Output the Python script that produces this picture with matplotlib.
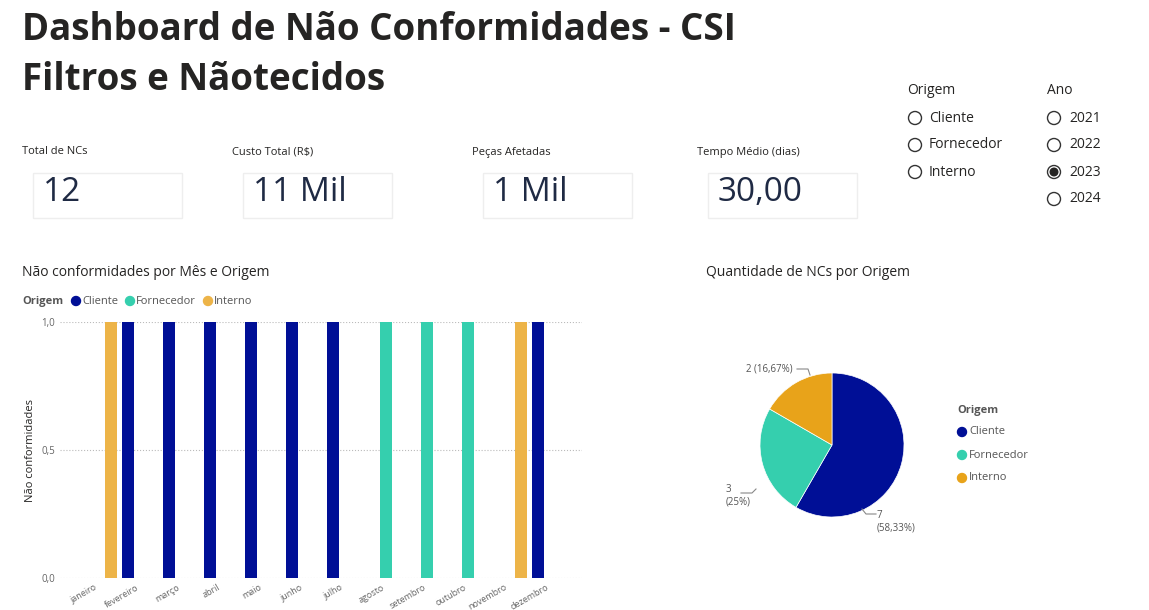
import numpy as np
import matplotlib.pyplot as plt
from matplotlib.patches import Rectangle, Ellipse

plt.rcParams['font.family'] = ['Open Sans', 'DejaVu Sans']

meses = ["janeiro", "fevereiro", "março", "abril", "maio", "junho", "julho",
         "agosto", "setembro", "outubro", "novembro", "dezembro"]
cliente = [0, 1, 1, 1, 1, 1, 1, 0, 0, 0, 0, 1]
fornecedor = [0, 0, 0, 0, 0, 0, 0, 1, 1, 1, 0, 0]
interno = [1, 0, 0, 0, 0, 0, 0, 0, 0, 0, 1, 0]
origens = ["Cliente", "Fornecedor", "Interno"]
pie_vals = [7, 3, 2]
pie_labels = ["7\n(58,33%)", "3\n(25%)", "2 (16,67%)"]
kpi_titles = ["Total de NCs", "Custo Total (R$)", "Peças Afetadas", "Tempo Médio (dias)"]
kpi_values = ["12", "11 Mil", "1 Mil", "30,00"]
anos = ["2021", "2022", "2023", "2024"]
ano_sel = "2023"

C_CLI = "#000F96"
C_FOR = "#35CFAE"
C_INT_BAR = "#EDB448"
C_INT_PIE = "#E8A31A"

W, H = 1149, 610
fig = plt.figure(figsize=(W / 100, H / 100), dpi=100)
fig.patch.set_facecolor("white")


def px(x, y):
    return x / W, 1 - y / H


def dot(x, y, r, **kw):
    fig.patches.append(Ellipse(px(x, y), 2 * r / W, 2 * r / H, transform=fig.transFigure, **kw))


# title
fig.text(*px(22, 30), "Dashboard de Não Conformidades - CSI", fontsize=26.5, fontweight="bold",
         color="#252423", va="center")
fig.text(*px(22, 80), "Filtros e Nãotecidos", fontsize=26.5, fontweight="bold",
         color="#252423", va="center")

# KPI cards
kx = [22, 232, 472, 697]
for x, t, v in zip(kx, kpi_titles, kpi_values):
    fig.text(*px(x, 152), t, fontsize=8, color="#252423", va="center")
    fig.patches.append(Rectangle(px(x + 11, 218), 149 / W, 45 / H, transform=fig.transFigure,
                                 fill=False, edgecolor="#EEEEEE", lw=1))
    fig.text(*px(x + 21, 192), v, fontsize=24, color="#1F2A44", va="center")

# slicers
fig.text(*px(907, 91), "Origem", fontsize=10, color="#252423", va="center")
for i, o in enumerate(origens):
    y = 118 + 27 * i
    dot(915, y, 6.5, fill=False, edgecolor="#333333", lw=1)
    fig.text(*px(929, y), o, fontsize=10, color="#252423", va="center")
fig.text(*px(1047, 91), "Ano", fontsize=10, color="#252423", va="center")
for i, a in enumerate(anos):
    y = 118 + 27 * i
    dot(1054, y, 6.5, fill=False, edgecolor="#333333", lw=1)
    if a == ano_sel:
        dot(1054, y, 3.8, color="#252423")
    fig.text(*px(1069, y), a, fontsize=10, color="#252423", va="center")

# bar chart
fig.text(*px(22, 273), "Não conformidades por Mês e Origem", fontsize=10, color="#252423", va="center")
fig.text(*px(22, 301), "Origem", fontsize=8, fontweight="bold", color="#555555", va="center")
lx = 76
for o, c in zip(origens, [C_CLI, C_FOR, C_INT_BAR]):
    dot(lx, 301, 4.5, color=c)
    fig.text(*px(lx + 6, 301), o, fontsize=8, color="#555555", va="center")
    lx += {"Cliente": 54, "Fornecedor": 78}.get(o, 0)

ax = fig.add_axes([60 / W, 1 - 578 / H, 522 / W, 256 / H])
x = np.arange(len(meses))
bw = 0.29
ax.bar(x - bw, cliente, bw, color=C_CLI)
ax.bar(x, fornecedor, bw, color=C_FOR)
ax.bar(x + bw, interno, bw, color=C_INT_BAR)
ax.set_xlim(-0.95, 11.78)
ax.set_ylim(0, 1)
ax.set_yticks([0, 0.5, 1.0])
ax.set_yticklabels(["0,0", "0,5", "1,0"], fontsize=7, color="#666666")
ax.set_xticks(x)
ax.set_xticklabels(meses, rotation=30, ha="right", fontsize=6.5, color="#666666")
ax.tick_params(length=0)
ax.yaxis.grid(True, linestyle=":", color="#BBBBBB")
ax.set_axisbelow(True)
for s in ax.spines.values():
    s.set_visible(False)
ax.set_ylabel("Não conformidades", fontsize=8, color="#252423")

# pie chart
fig.text(*px(706, 273), "Quantidade de NCs por Origem", fontsize=10, color="#252423", va="center")
r = 72
pax = fig.add_axes([(832 - r) / W, 1 - (445 + r) / H, 2 * r / W, 2 * r / H])
pax.pie(pie_vals, colors=[C_CLI, C_FOR, C_INT_PIE], startangle=90, counterclock=False,
        wedgeprops=dict(edgecolor="white", linewidth=0.5))
pax.set_aspect("auto")
pax.set_xlim(-1, 1)
pax.set_ylim(-1, 1)
fig.text(*px(877, 522), pie_labels[0], fontsize=7, color="#555555", va="center")
fig.text(*px(726, 496), pie_labels[1], fontsize=7, color="#555555", va="center", ha="left")
fig.text(*px(746, 369), pie_labels[2], fontsize=7, color="#555555", va="center")
for xs, ys in [([862, 866, 876], [509, 514, 514]), ([741, 752, 756], [493, 493, 489]),
               ([797, 808, 810], [369, 369, 375])]:
    fig.add_artist(plt.Line2D([v / W for v in xs], [1 - v / H for v in ys], color="#888888", lw=0.8))

fig.text(*px(957, 411), "Origem", fontsize=8, fontweight="bold", color="#555555", va="center")
for i, (o, c) in enumerate(zip(origens, [C_CLI, C_FOR, C_INT_PIE])):
    y = 432 + 23 * i
    dot(962, y, 4.5, color=c)
    fig.text(*px(969, y), o, fontsize=8, color="#555555", va="center")

fig.savefig("out.png", dpi=100)
